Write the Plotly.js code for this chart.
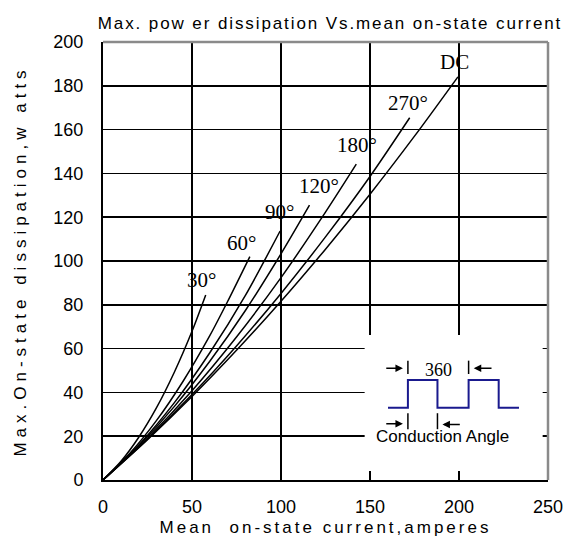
<!DOCTYPE html>
<html>
<head>
<meta charset="utf-8">
<script src="https://cdn.plot.ly/plotly-3.0.1.min.js"></script>
<style>
html,body{margin:0;padding:0;background:#fff}
#chart{width:568px;height:543px}
#chart .gtitle{letter-spacing:1.9px}
#chart .xtitle{letter-spacing:3px}
#chart .ytitle{letter-spacing:5px}
</style>
</head>
<body>
<div id="chart"></div>
<script>
// ---- data ----
const angleLabels = ["30°", "60°", "90°", "120°", "180°", "270°", "DC"];

const x30  = [0, 10, 20, 30, 40, 50, 57.7];
const y30  = [0, 8.4, 19.4, 32.9, 49.1, 67.9, 84.5];

const x60  = [0, 15, 30, 45, 60, 70, 82.5];
const y60  = [0, 12.1, 27.1, 45.1, 65.9, 81.5, 102];

const x90  = [0, 20, 40, 60, 80, 99.5];
const y90  = [0, 15.9, 35.2, 58.1, 84.3, 113.7];

const x120 = [0, 20, 40, 60, 80, 100, 116];
const y120 = [0, 15.5, 33.5, 54.2, 77.4, 103.3, 125.5];

const x180 = [0, 25, 50, 75, 100, 125, 142.3];
const y180 = [0, 19.1, 40.8, 65.3, 92.4, 122.3, 144.2];

const x270 = [0, 25, 50, 75, 100, 125, 150, 172.3];
const y270 = [0, 18.6, 39.0, 61.2, 85.2, 111.0, 138.6, 165.4];

const xDC  = [0, 25, 50, 75, 100, 125, 150, 175, 199.4];
const yDC  = [0, 18.4, 38.1, 59.2, 81.6, 105.4, 130.5, 157.0, 184.1];

const xTicks = [0, 50, 100, 150, 200, 250];
const yTicks = [0, 20, 40, 60, 80, 100, 120, 140, 160, 180, 200];

// inset waveform (conduction-angle schematic)
const waveX = [160.1, 171.3, 171.3, 187.9, 187.9, 205.4, 205.4, 222.3, 222.3, 233.7];
const waveY = [33.0, 33.0, 45.7, 45.7, 33.0, 33.0, 45.7, 45.7, 33.0, 33.0];

// ---- chart ----
const seriesX = [x30, x60, x90, x120, x180, x270, xDC];
const seriesY = [y30, y60, y90, y120, y180, y270, yDC];
const labelPos = [[55.4, 91.3], [77.8, 108], [99.3, 122.5], [121.3, 134.2], [142.9, 153], [171.3, 172], [197.6, 190.7]];

const traces = seriesX.map((xs, i) => ({
  x: xs, y: seriesY[i], type: 'scatter', mode: 'lines',
  line: {color: '#000', width: 1.5, shape: 'spline', smoothing: 0.8},
  name: angleLabels[i], hoverinfo: 'x+y'
}));
traces.push({x: waveX, y: waveY, type: 'scatter', mode: 'lines',
  line: {color: '#1a1a8e', width: 2}, hoverinfo: 'skip', name: 'wave'});

const serif = 'Liberation Serif, Times New Roman, serif';
const sans = 'Liberation Sans, Arial, sans-serif';

const annotations = angleLabels.map((t, i) => ({
  x: labelPos[i][0], y: labelPos[i][1], xref: 'x', yref: 'y', text: t, showarrow: false,
  font: {family: serif, size: 21, color: '#000'}
}));

// inset decorations
const arrow = (tx, hx, y) => ({x: hx, y: y, ax: tx, ay: y, xref: 'x', yref: 'y', axref: 'x', ayref: 'y',
  text: '', showarrow: true, arrowhead: 2, arrowsize: 1, arrowwidth: 1.5, arrowcolor: '#000'});
annotations.push(arrow(158.3, 168.5, 51.0));
annotations.push(arrow(219.1, 208.3, 51.0));
annotations.push(arrow(158.3, 168.5, 25.7));
annotations.push(arrow(201.3, 190.7, 25.3));
annotations.push({x: 188.3, y: 50.2, xref: 'x', yref: 'y', text: '360', showarrow: false,
  font: {family: serif, size: 18, color: '#000'}});
annotations.push({x: 191.0, y: 19.8, xref: 'x', yref: 'y', text: 'Conduction Angle', showarrow: false,
  font: {family: sans, size: 17, color: '#000'}});

const vbar = (x, y0, y1) => ({type: 'line', xref: 'x', yref: 'y', x0: x, x1: x, y0: y0, y1: y1,
  line: {color: '#000', width: 1.5}, layer: 'above'});

const shapes = [
  {type: 'rect', xref: 'x', yref: 'y', x0: 147, x1: 247, y0: 4.1, y1: 66.2,
   fillcolor: '#fff', line: {width: 0}, layer: 'between'},
  {type: 'line', xref: 'paper', yref: 'paper', x0: 0, x1: 1, y0: 1, y1: 1, line: {color: '#8a8a8a', width: 2.5}, layer: 'above'},
  {type: 'line', xref: 'paper', yref: 'paper', x0: 1, x1: 1, y0: 0, y1: 1, line: {color: '#8a8a8a', width: 2.5}, layer: 'above'},
  vbar(171.3, 48.4, 54.5), vbar(205.4, 48.4, 54.5),
  vbar(171.3, 23.2, 30.5), vbar(187.9, 23.2, 30.5)
];

const layout = {
  width: 568, height: 543,
  margin: {l: 103, r: 20, t: 42, b: 63},
  paper_bgcolor: '#fff', plot_bgcolor: '#fff',
  showlegend: false,
  title: {text: 'Max. pow er dissipation Vs.mean on-state current', font: {family: sans, size: 17, color: '#000'},
    xref: 'container', yref: 'container', x: 0.581, xanchor: 'center', y: 0.958, yanchor: 'middle'},
  xaxis: {range: [0, 250], tickvals: xTicks, ticktext: xTicks.map(String), showgrid: true, gridcolor: '#000', gridwidth: 1.5,
    zeroline: false, showline: true, linecolor: '#000', linewidth: 2, ticks: '', ticklabelstandoff: 9,
    tickfont: {family: sans, size: 18, color: '#000'},
    title: {text: 'Mean  on-state current,amperes', font: {family: sans, size: 17, color: '#000'}, standoff: 6}},
  yaxis: {range: [0, 200], tickvals: yTicks, ticktext: yTicks.map(String), showgrid: true, gridcolor: '#000', gridwidth: 1.5,
    zeroline: false, showline: true, linecolor: '#000', linewidth: 2, ticks: '', ticklabelstandoff: 14,
    tickfont: {family: sans, size: 18, color: '#000'},
    title: {text: 'Max.On-state dissipation,w atts', font: {family: sans, size: 17, color: '#000'}, standoff: 22}},
  annotations: annotations,
  shapes: shapes
};

Plotly.newPlot('chart', traces, layout, {displayModeBar: false, staticPlot: true});
</script>
</body>
</html>
